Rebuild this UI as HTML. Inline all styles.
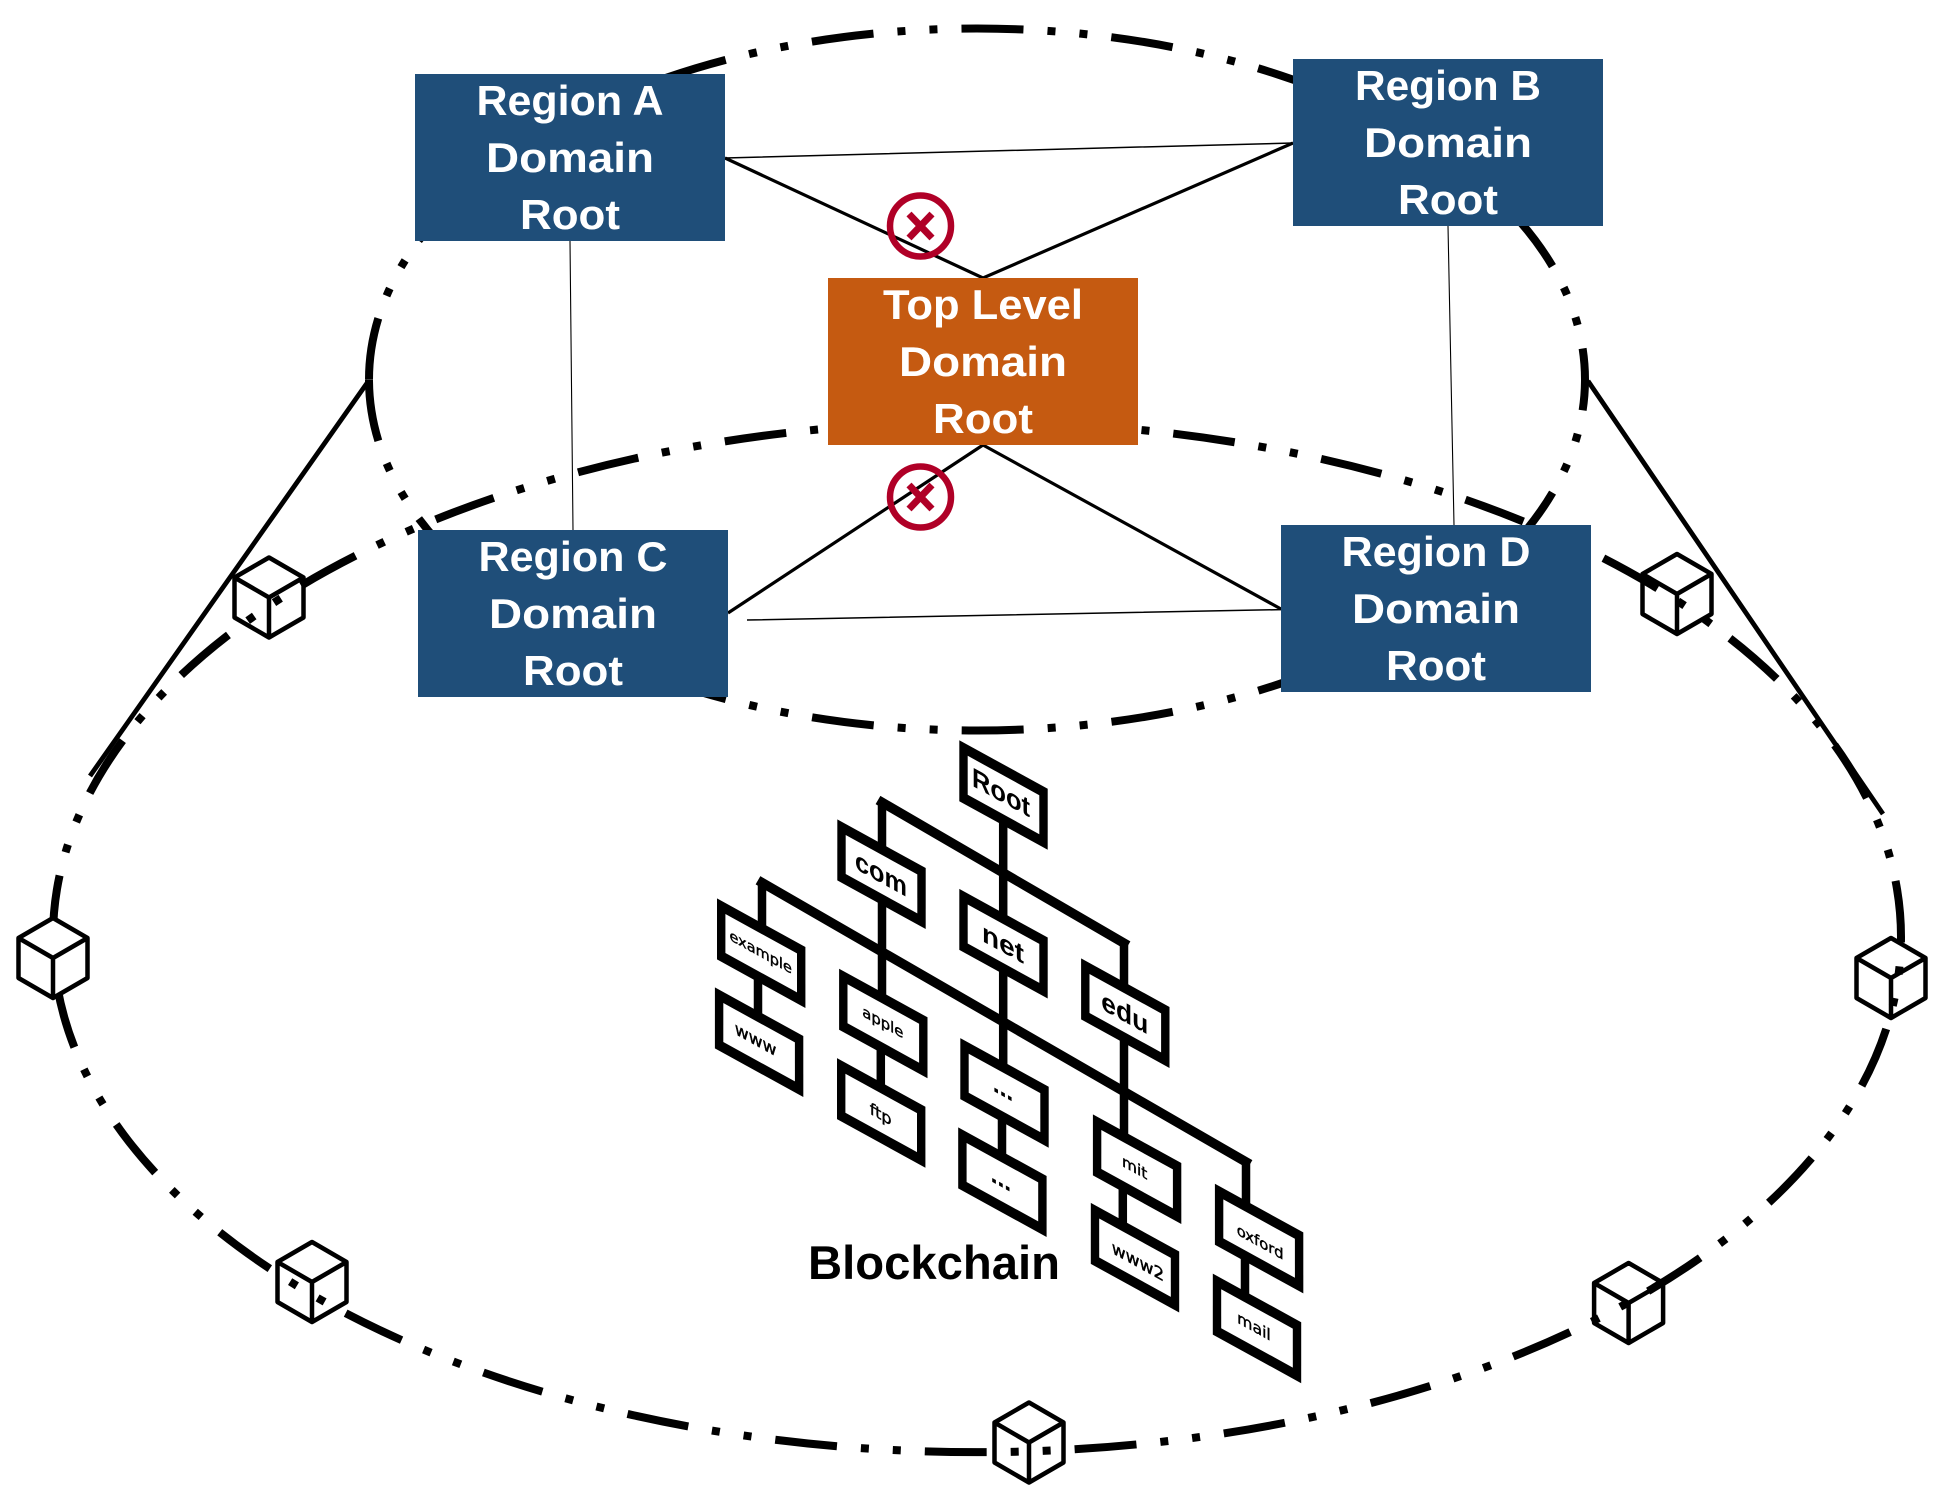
<!DOCTYPE html>
<html><head><meta charset="utf-8"><style>
html,body{margin:0;padding:0;background:#fff}
svg{display:block}
.box{font:bold 42px "Liberation Sans",sans-serif;fill:#fff;text-anchor:middle}
.l{font-family:"DejaVu Sans",sans-serif;text-anchor:middle;fill:#000;stroke:#000;stroke-width:.45}
.b{font-family:"Liberation Sans",sans-serif;font-weight:bold;font-size:27px;stroke:none}
.cube{fill:none;stroke:#000;stroke-width:4.5;stroke-linejoin:round}
</style></head><body>
<svg width="1939" height="1499" viewBox="0 0 1939 1499" xmlns="http://www.w3.org/2000/svg">
<defs>
<path id="c" d="M0 -40L34.5 -20V20L0 40L-34.5 20V-20ZM-34.5 -20L0 0L34.5 -20M0 0V40"/>
<g id="bx"><rect x="-4.2" y="-5.5" width="88.4" height="61" fill="#000"/><rect x="4.2" y="5.5" width="71.6" height="39" fill="#fff"/></g>
</defs>
<rect width="1939" height="1499" fill="#fff"/>
<g fill="none" stroke="#000" stroke-width="8" stroke-dasharray="62 24 8 24 8 24">
<path pathLength="3062" d="M369 379.5A608 351 0 1 1 1585 379.5A608 351 0 1 1 369 379.5"/>
<path d="M53 937A924 515 0 1 1 1901 937A924 515 0 1 1 53 937"/>
</g>
<g stroke="#000" fill="none">
<path stroke-width="4.8" d="M368.5 381L90 776M1588 381L1883 814"/>
<path stroke-width="3.2" d="M725 158L983 278L1293 143M983 445L728 613M983 445L1281 609"/>
<path stroke-width="1.5" d="M725 158L1293 143M747 620L1281 609.6"/>
<path stroke-width="1.1" d="M570 241L573 530M1448 226L1454 525"/>
</g>
<g><rect x="415" y="74" width="310" height="167" fill="#1F4E79"/>
<text class="box" x="570" y="115" textLength="187" lengthAdjust="spacingAndGlyphs">Region A</text>
<text class="box" x="570" y="172" textLength="168" lengthAdjust="spacingAndGlyphs">Domain</text>
<text class="box" x="570" y="229" textLength="100" lengthAdjust="spacingAndGlyphs">Root</text></g>
<g><rect x="1293" y="59" width="310" height="167" fill="#1F4E79"/>
<text class="box" x="1448" y="100" textLength="186" lengthAdjust="spacingAndGlyphs">Region B</text>
<text class="box" x="1448" y="157" textLength="168" lengthAdjust="spacingAndGlyphs">Domain</text>
<text class="box" x="1448" y="214" textLength="100" lengthAdjust="spacingAndGlyphs">Root</text></g>
<g><rect x="828" y="278" width="310" height="167" fill="#C55A11"/>
<text class="box" x="983" y="319" textLength="200" lengthAdjust="spacingAndGlyphs">Top Level</text>
<text class="box" x="983" y="376" textLength="168" lengthAdjust="spacingAndGlyphs">Domain</text>
<text class="box" x="983" y="433" textLength="100" lengthAdjust="spacingAndGlyphs">Root</text></g>
<g><rect x="418" y="530" width="310" height="167" fill="#1F4E79"/>
<text class="box" x="573" y="571" textLength="189" lengthAdjust="spacingAndGlyphs">Region C</text>
<text class="box" x="573" y="628" textLength="168" lengthAdjust="spacingAndGlyphs">Domain</text>
<text class="box" x="573" y="685" textLength="100" lengthAdjust="spacingAndGlyphs">Root</text></g>
<g><rect x="1281" y="525" width="310" height="167" fill="#1F4E79"/>
<text class="box" x="1436" y="566" textLength="189" lengthAdjust="spacingAndGlyphs">Region D</text>
<text class="box" x="1436" y="623" textLength="168" lengthAdjust="spacingAndGlyphs">Domain</text>
<text class="box" x="1436" y="680" textLength="100" lengthAdjust="spacingAndGlyphs">Root</text></g>
<g fill="none" stroke="#B00027">
<g stroke-width="6.5"><circle cx="920.5" cy="226" r="30.5"/><circle cx="920.5" cy="497" r="30.5"/></g>
<path stroke-width="7" d="M909 214L932 238M932 214L909 238M909 485L932 509M932 485L909 509"/>
</g>
<!-- tree connectors -->
<g fill="none" stroke="#000" stroke-width="8.5">
<path d="M882 860V802.4M1124 943.3V992M762 932V882.6M1246 1162V1210"/>
<path d="M1003.2 810V920"/>
<path d="M882 890V1000"/>
<path d="M1003.2 965V1070"/>
<path d="M1124 1030V1140"/>
<path d="M758 970V1027M880.8 1040V1092M1002 1108V1162M1122.8 1178V1235M1245 1250V1305"/>
</g>
<path fill="none" stroke="#000" stroke-width="9.5" d="M878 800L1128 945.5M758 880.3L1250 1164.3"/>
<!-- tree boxes -->
<g transform="matrix(1 .55 0 1 963.5 748)"><use href="#bx"/><text class="l b" x="37.5" y="33" textLength="58" lengthAdjust="spacingAndGlyphs">Root</text></g>
<g transform="matrix(1 .55 0 1 841.5 827.2)"><use href="#bx"/><text class="l b" x="39.5" y="34" textLength="52" lengthAdjust="spacingAndGlyphs">com</text></g>
<g transform="matrix(1 .55 0 1 963.5 896.7)"><use href="#bx"/><text class="l b" x="39.5" y="34" textLength="42" lengthAdjust="spacingAndGlyphs">net</text></g>
<g transform="matrix(1 .55 0 1 1085.3 966.2)"><use href="#bx"/><text class="l b" x="39.5" y="34" textLength="47" lengthAdjust="spacingAndGlyphs">edu</text></g>
<g transform="matrix(1 .55 0 1 721.2 906.2)"><use href="#bx"/><text class="l" x="39.5" y="29" font-size="14.5">example</text></g>
<g transform="matrix(1 .55 0 1 719.1 995.2)"><use href="#bx"/><text class="l" x="36.5" y="30" font-size="17">www</text></g>
<g transform="matrix(1 .55 0 1 843.3 976.5)"><use href="#bx"/><text class="l" x="39.5" y="29" font-size="14.8">apple</text></g>
<g transform="matrix(1 .55 0 1 841.2 1065.9)"><use href="#bx"/><text class="l" x="39.5" y="32" font-size="16">ftp</text></g>
<g transform="matrix(1 .55 0 1 964.5 1045.9)"><use href="#bx"/><text class="l" x="38.5" y="29" font-size="18" font-weight="bold">...</text></g>
<g transform="matrix(1 .55 0 1 962.4 1135.2)"><use href="#bx"/><text class="l" x="38.5" y="30" font-size="18" font-weight="bold">...</text></g>
<g transform="matrix(1 .55 0 1 1097.1 1122.2)"><use href="#bx"/><text class="l" x="37.5" y="30" font-size="15.4">mit</text></g>
<g transform="matrix(1 .55 0 1 1095 1210.7)"><use href="#bx"/><text class="l" x="43" y="33" font-size="17">www2</text></g>
<g transform="matrix(1 .55 0 1 1219.1 1191.6)"><use href="#bx"/><text class="l" x="41" y="33" font-size="14.8">oxford</text></g>
<g transform="matrix(1 .55 0 1 1217 1281.4)"><use href="#bx"/><text class="l" x="37" y="30" font-size="15.7">mail</text></g>
<text x="808" y="1279" font-family="Liberation Sans,sans-serif" font-weight="bold" font-size="47.5" fill="#000" textLength="252" lengthAdjust="spacingAndGlyphs">Blockchain</text>
<!-- cubes -->
<use href="#c" class="cube" x="269" y="597.5"/>
<use href="#c" class="cube" x="1677" y="594"/>
<g transform="translate(53 958)"><path d="M0 -40L34.5 -20V20L0 40L-34.5 20V-20Z" fill="#fff"/></g>
<use href="#c" class="cube" x="53" y="958"/>
<use href="#c" class="cube" x="1891" y="978"/>
<use href="#c" class="cube" x="312" y="1282"/>
<use href="#c" class="cube" x="1029" y="1442.5"/>
<use href="#c" class="cube" x="1628.6" y="1303"/>
</svg>
</body></html>
